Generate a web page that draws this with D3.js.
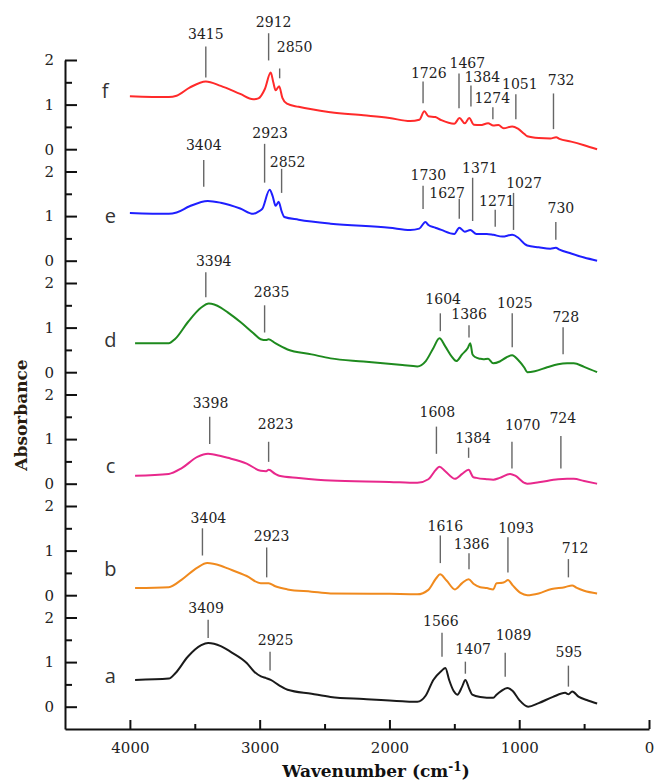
<!DOCTYPE html>
<html>
<head>
<meta charset="utf-8">
<script src="https://cdn.jsdelivr.net/npm/d3@7"></script>
<style>
  body { margin: 0; background: #fff; }
  svg { display: block; }
  .tick text { font-family: "DejaVu Serif", serif; font-size: 15px; fill: #222; }
  .domain, .tick line { stroke: #111; }
</style>
</head>
<body>
<div id="chart"></div>
<script>
// panels from bottom to top
const panelNames = ['a', 'b', 'c', 'd', 'e', 'f']
const panelColors = ['#1a1a1a', '#f08a1e', '#e8288c', '#1e8a1e', '#1f1fff', '#ff2a2a']
const panelStep = 2.5

// x axis (wavenumber)
const xTicksMajor = [4000, 3000, 2000, 1000, 0]
const xTicksMinor = [3500, 2500, 1500, 500]
// y ticks inside one panel
const yTicksMajor = [0, 1, 2]
const yTicksMinor = [0.5, 1.5]

// spectra, [wavenumber, absorbance]
const spectrumA = [[3960,0.60],[3700,0.63],[3650,0.75],[3554,1.12],[3450,1.38],[3397,1.43],[3300,1.36],[3223,1.23],[3100,0.98],[3040,0.78],[2990,0.68],[2950,0.64],[2915,0.60],[2850,0.48],[2785,0.38],[2600,0.29],[2454,0.22],[2200,0.17],[1900,0.12],[1785,0.11],[1720,0.25],[1662,0.60],[1600,0.80],[1569,0.87],[1540,0.60],[1505,0.35],[1477,0.27],[1440,0.45],[1415,0.60],[1385,0.40],[1362,0.27],[1300,0.22],[1200,0.20],[1175,0.27],[1140,0.35],[1092,0.42],[1050,0.35],[1000,0.15],[931,0.0],[850,0.08],[740,0.22],[646,0.31],[620,0.28],[592,0.34],[540,0.22],[480,0.15],[400,0.07]]
const spectrumB = [[3960,0.16],[3700,0.18],[3600,0.35],[3480,0.62],[3404,0.72],[3300,0.66],[3246,0.60],[3100,0.43],[2992,0.27],[2931,0.27],[2880,0.20],[2785,0.13],[2600,0.08],[2454,0.04],[2000,0.03],[1785,0.02],[1700,0.12],[1640,0.38],[1610,0.47],[1560,0.33],[1495,0.13],[1440,0.27],[1390,0.36],[1350,0.25],[1300,0.18],[1250,0.16],[1200,0.13],[1175,0.27],[1130,0.28],[1110,0.30],[1087,0.34],[1050,0.22],[990,0.05],[938,0.0],[850,0.04],[750,0.14],[650,0.18],[592,0.22],[560,0.17],[500,0.10],[400,0.04]]
const spectrumC = [[3960,0.18],[3700,0.22],[3600,0.35],[3480,0.60],[3398,0.67],[3300,0.62],[3246,0.58],[3100,0.45],[2992,0.29],[2950,0.28],[2931,0.31],[2880,0.22],[2850,0.18],[2700,0.13],[2454,0.07],[2000,0.04],[1785,0.02],[1700,0.10],[1640,0.32],[1615,0.38],[1570,0.28],[1495,0.11],[1440,0.22],[1390,0.31],[1355,0.15],[1330,0.13],[1250,0.10],[1200,0.09],[1150,0.13],[1070,0.22],[1030,0.18],[960,0.02],[938,0.0],[850,0.03],[700,0.10],[631,0.11],[580,0.11],[500,0.06],[400,0.0]]
const spectrumD = [[3960,0.65],[3700,0.65],[3650,0.75],[3554,1.12],[3450,1.45],[3392,1.54],[3300,1.45],[3246,1.34],[3146,1.12],[3050,0.88],[2992,0.74],[2950,0.72],[2931,0.74],[2880,0.65],[2785,0.51],[2600,0.40],[2454,0.31],[2200,0.24],[1900,0.16],[1785,0.13],[1720,0.25],[1660,0.55],[1615,0.76],[1570,0.58],[1520,0.35],[1485,0.25],[1440,0.40],[1395,0.55],[1377,0.65],[1360,0.40],[1340,0.34],[1300,0.30],[1277,0.29],[1240,0.30],[1200,0.20],[1150,0.24],[1100,0.33],[1054,0.38],[1010,0.28],[960,0.10],[938,0.0],[880,0.02],[785,0.11],[700,0.18],[631,0.20],[580,0.20],[500,0.12],[400,0.0]]
const spectrumE = [[4000,1.07],[3700,1.05],[3640,1.08],[3540,1.22],[3400,1.34],[3300,1.30],[3150,1.17],[3050,1.05],[3010,1.10],[2980,1.16],[2923,1.59],[2900,1.45],[2877,1.23],[2854,1.32],[2830,1.10],[2810,0.98],[2700,0.92],[2454,0.83],[2000,0.74],[1840,0.69],[1770,0.72],[1723,0.87],[1700,0.80],[1646,0.74],[1600,0.69],[1500,0.60],[1462,0.74],[1420,0.65],[1377,0.69],[1330,0.60],[1250,0.60],[1200,0.58],[1130,0.54],[1054,0.58],[1010,0.52],[960,0.38],[938,0.34],[850,0.30],[760,0.27],[718,0.29],[690,0.25],[600,0.16],[500,0.07],[400,0.0]]
const spectrumF = [[4000,1.19],[3700,1.17],[3640,1.20],[3540,1.38],[3415,1.52],[3300,1.42],[3150,1.24],[3050,1.12],[3010,1.14],[2960,1.35],[2915,1.72],[2895,1.50],[2877,1.32],[2850,1.41],[2825,1.15],[2790,1.02],[2700,0.95],[2454,0.83],[2200,0.76],[2000,0.70],[1840,0.63],[1770,0.66],[1731,0.85],[1700,0.74],[1646,0.72],[1600,0.65],[1500,0.57],[1460,0.70],[1420,0.58],[1385,0.70],[1350,0.55],[1300,0.54],[1240,0.58],[1200,0.53],[1160,0.54],[1120,0.47],[1054,0.51],[1010,0.46],[960,0.34],[938,0.29],[850,0.25],[760,0.24],[715,0.27],[690,0.23],[600,0.17],[500,0.09],[400,0.0]]
const spectra = [spectrumA, spectrumB, spectrumC, spectrumD, spectrumE, spectrumF]

// peak labels: [text, line wavenumber, line top, line bottom, text wavenumber, text baseline] (absorbance units inside the panel)
const peaksA = [['3409',3397,1.95,1.54,3413,2.10],['2925',2920,1.23,0.81,2877,1.39],['1566',1595,1.66,1.12,1604,1.81],['1407',1415,1.01,0.74,1355,1.19],['1089',1108,1.21,0.67,1044,1.50],['595',621,0.92,0.45,617,1.12]]
const peaksB = [['3404',3441,1.50,0.89,3395,1.61],['2923',2946,1.07,0.40,2908,1.21],['1616',1608,1.34,0.72,1569,1.45],['1386',1387,0.94,0.58,1367,1.03],['1093',1087,1.30,0.51,1025,1.39],['712',621,0.81,0.40,569,0.94]]
const peaksC = [['3398',3385,1.50,0.89,3379,1.70],['2823',2931,0.94,0.49,2877,1.23],['1608',1638,1.28,0.67,1631,1.50],['1384',1390,0.81,0.58,1355,0.92],['1070',1056,0.94,0.34,973,1.21],['724',679,1.07,0.34,664,1.36]]
const peaksD = [['3394',3415,2.24,1.68,3354,2.39],['2835',2962,1.50,0.89,2908,1.68],['1604',1608,1.32,0.92,1586,1.54],['1386',1387,1.05,0.78,1386,1.19],['1025',1054,1.32,0.56,1033,1.45],['728',662,1.01,0.40,641,1.12]]
const peaksE = [['3404',3431,2.26,1.66,3431,2.48],['2923',2962,2.62,1.75,2919,2.75],['2852',2831,2.06,1.52,2785,2.10],['1730',1741,1.68,1.16,1700,1.81],['1627',1462,1.39,0.94,1556,1.41],['1371',1359,1.86,0.89,1303,1.97],['1271',1185,1.14,0.76,1172,1.23],['1027',1044,1.52,0.69,963,1.63],['730',718,0.87,0.47,679,1.07]]
const peaksF = [['3415',3415,2.30,1.61,3415,2.46],['2912',2931,2.60,1.99,2892,2.73],['2850',2846,1.81,1.59,2731,2.19],['1726',1741,1.52,1.03,1697,1.59],['1467',1464,1.70,0.92,1400,1.83],['1384',1372,1.43,0.96,1285,1.50],['1274',1203,0.94,0.67,1208,1.03],['1051',1026,1.23,0.67,995,1.36],['732',736,1.25,0.45,677,1.45]]
const peaks = [peaksA, peaksB, peaksC, peaksD, peaksE, peaksF]

// where the panel letter sits: [wavenumber, absorbance]
const letterPos = [[4150,0.54],[4150,0.43],[4150,0.25],[4150,0.56],[4150,0.85],[4190,1.14]]

/* Canvas */
const WIDTH = 654
const HEIGHT = 780

const $svg = d3.select('#chart')
	.append('svg')
	.attr('width', WIDTH)
	.attr('height', HEIGHT)

/* Scales */
const xScale = d3.scaleLinear()
	.domain([4500, 0])
	.range([65, 649])

const yScale = d3.scaleLinear()
	.domain([-0.5, panelStep * 5 + 2])
	.range([729, 60])

const py = (i, v) => yScale(i * panelStep + v)

/* Axes */
const yMajorValues = panelNames.flatMap((n, i) => yTicksMajor.map(t => i * panelStep + t))
const yMinorValues = panelNames.flatMap((n, i) => yTicksMinor.map(t => i * panelStep + t))

const localValue = t => Math.round(((t % panelStep) + panelStep) % panelStep)

$svg.append('g')
	.attr('transform', `translate(${xScale(4500)}, 0)`)
	.call(d3.axisLeft(yScale)
		.tickValues(yMajorValues)
		.tickFormat(localValue)
		.tickSizeInner(-12)
		.tickSizeOuter(0)
		.tickPadding(11))
	.call(g => g.select('.domain').attr('stroke-width', 2))
	.call(g => g.selectAll('.tick line').attr('stroke-width', 2))

$svg.append('g')
	.attr('transform', `translate(${xScale(4500)}, 0)`)
	.call(d3.axisLeft(yScale)
		.tickValues(yMinorValues)
		.tickFormat('')
		.tickSizeInner(-7)
		.tickSizeOuter(0))
	.call(g => g.select('.domain').remove())
	.call(g => g.selectAll('.tick line').attr('stroke-width', 2))

$svg.append('g')
	.attr('transform', `translate(0, ${yScale(-0.5)})`)
	.call(d3.axisBottom(xScale)
		.tickValues(xTicksMajor)
		.tickFormat(d3.format('d'))
		.tickSizeInner(-9)
		.tickSizeOuter(0)
		.tickPadding(13))
	.call(g => g.select('.domain').attr('stroke-width', 2))
	.call(g => g.selectAll('.tick line').attr('stroke-width', 2))

$svg.append('g')
	.attr('transform', `translate(0, ${yScale(-0.5)})`)
	.call(d3.axisBottom(xScale)
		.tickValues(xTicksMinor)
		.tickFormat('')
		.tickSizeInner(-5)
		.tickSizeOuter(0))
	.call(g => g.select('.domain').remove())
	.call(g => g.selectAll('.tick line').attr('stroke-width', 2))

/* Axis titles */
$svg.append('text')
	.attr('transform', `translate(27, 415) rotate(-90)`)
	.attr('text-anchor', 'middle')
	.attr('font-family', '"DejaVu Serif", serif')
	.attr('font-weight', 'bold')
	.attr('font-size', 17)
	.attr('fill', '#2a1d10')
	.text('Absorbance')

const $xTitle = $svg.append('text')
	.attr('x', 376)
	.attr('y', 777)
	.attr('text-anchor', 'middle')
	.attr('font-family', '"DejaVu Serif", serif')
	.attr('font-weight', 'bold')
	.attr('font-size', 17)
	.attr('fill', '#111')
$xTitle.append('tspan').text('Wavenumber (cm')
$xTitle.append('tspan').attr('dy', -6).attr('font-size', 12).text('-1')
$xTitle.append('tspan').attr('dy', 6).text(')')

/* Spectra */
const line = d3.line()
	.x(d => xScale(d[0]))
	.y(d => d.y)
	.curve(d3.curveMonotoneX)

const $panels = $svg.append('g')

spectra.forEach((spec, i) => {
	const pts = spec.map(d => Object.assign([d[0], d[1]], { y: py(i, d[1]) }))
	$panels.append('path')
		.attr('d', line(pts))
		.attr('fill', 'none')
		.attr('stroke', panelColors[i])
		.attr('stroke-width', 2)
		.attr('stroke-linejoin', 'round')

	// peak markers
	const $peaks = $panels.append('g')
	$peaks.selectAll('line')
		.data(peaks[i])
		.enter()
		.append('line')
		.attr('x1', d => xScale(d[1]))
		.attr('x2', d => xScale(d[1]))
		.attr('y1', d => py(i, d[2]))
		.attr('y2', d => py(i, d[3]))
		.attr('stroke', '#666')
		.attr('stroke-width', 1.4)
	$peaks.selectAll('text')
		.data(peaks[i])
		.enter()
		.append('text')
		.attr('x', d => xScale(d[4]))
		.attr('y', d => py(i, d[5]))
		.attr('text-anchor', 'middle')
		.attr('font-family', '"DejaVu Serif", serif')
		.attr('font-size', 14)
		.attr('fill', '#222')
		.text(d => d[0])

	// panel letter
	$panels.append('text')
		.attr('x', xScale(letterPos[i][0]))
		.attr('y', py(i, letterPos[i][1]))
		.attr('text-anchor', 'middle')
		.attr('font-family', '"Open Sans", sans-serif')
		.attr('font-size', 20)
		.attr('fill', '#333')
		.text(panelNames[i])
})
</script>
</body>
</html>
